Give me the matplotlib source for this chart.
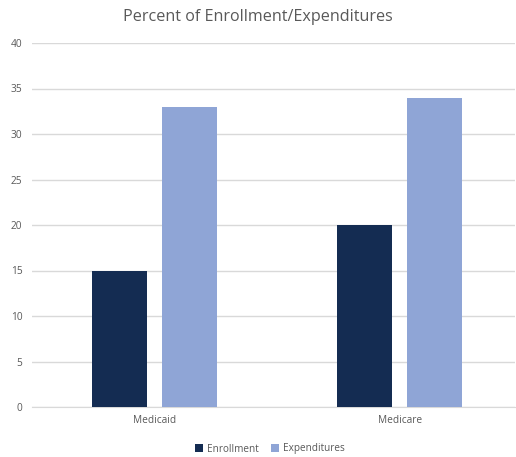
import matplotlib
matplotlib.use("Agg")
import matplotlib.pyplot as plt
import numpy as np

categories = ["Medicaid", "Medicare"]
enrollment = [15, 20]
expenditures = [33, 34]
yticks = [0, 5, 10, 15, 20, 25, 30, 35, 40]

plt.rcParams['font.family'] = ['Open Sans', 'DejaVu Sans']
fig = plt.figure(figsize=(5.16, 4.57), dpi=100)
ax = fig.add_axes([32/516, 50/457, 483/516, 364/457])

x = np.arange(len(categories))
w = 0.2245
off = 0.143
ax.bar(x - off, enrollment, w, color="#142C52", label="Enrollment", zorder=3)
ax.bar(x + off, expenditures, w, color="#8FA5D6", label="Expenditures", zorder=3)

ax.set_xlim(-0.5, 1.47)
ax.set_ylim(0, 40)
ax.set_yticks(yticks)
ax.set_xticks(x)
ax.set_xticklabels(categories)
ax.grid(axis="y", color="#D9D9D9", linewidth=1, zorder=0)
for s in ["top", "right", "left"]:
    ax.spines[s].set_visible(False)
ax.spines["bottom"].set_color("#D9D9D9")
ax.tick_params(axis="both", length=0, labelsize=7.3, colors="#595959", pad=6)
ax.tick_params(axis="y", pad=7)

fig.text(0.5, 1 - 17/457, "Percent of Enrollment/Expenditures", ha="center", va="center",
         fontsize=11.6, color="#595959")
leg = fig.legend(loc="center", bbox_to_anchor=(270/516, 1 - 449/457), ncol=2, frameon=False,
                 fontsize=7.2, handlelength=0.8, handleheight=0.8, handletextpad=0.4,
                 columnspacing=1.2)
for t in leg.get_texts():
    t.set_color("#595959")

fig.savefig("out.png", dpi=100)
